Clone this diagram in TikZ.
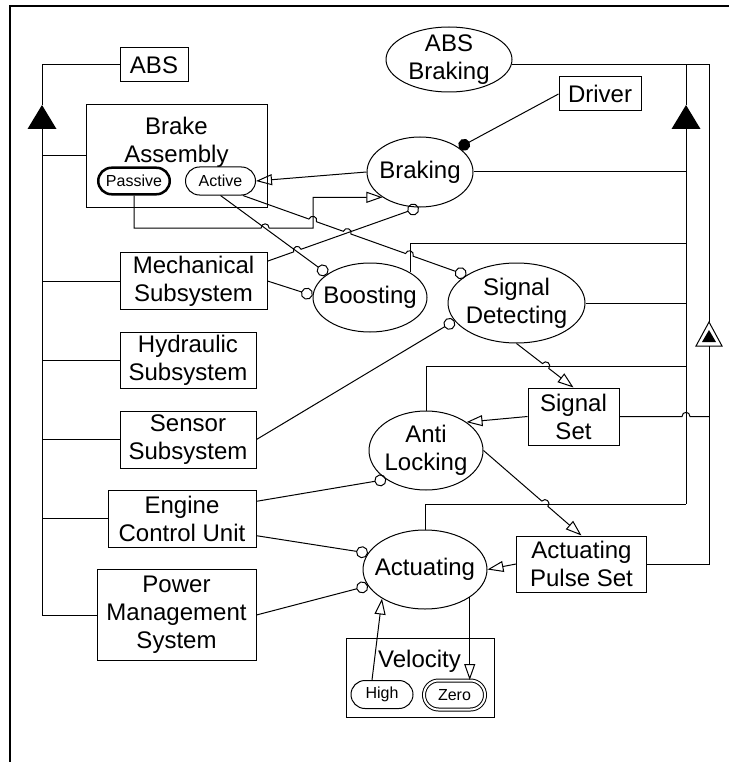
\documentclass[tikz,border=0pt]{standalone}
\usepackage{fontspec}
\setmainfont{Liberation Sans}
\usetikzlibrary{arrows.meta,shapes.geometric,shapes.misc,calc}
\newcommand\objfont{\fontsize{24}{28}\selectfont}
\newcommand\statefont{\fontsize{16}{19}\selectfont}
\newcommand\hopover[3]{%
  -- ($(#2)!4pt!(#1)$)
  .. controls ($(#2)!4pt!(#1)!5.5pt!90:(#2)$) and ($(#2)!4pt!(#3)!5.5pt!-90:(#2)$)
  .. ($(#2)!4pt!(#3)$)}
\tikzset{
  lnk/.style={line width=1pt},
  obj/.style={draw, line width=1pt, rectangle, inner sep=0pt, align=center, font=\objfont},
  proc/.style={draw, line width=1pt, ellipse, inner xsep=-12pt, inner ysep=-5pt, align=center, font=\objfont},
  statebox/.style={draw, line width=1pt, rounded rectangle, inner sep=0pt, font=\statefont},
  reslink/.style={lnk, -{Triangle[open,length=16pt,width=11pt]}},
  instlink/.style={lnk, -{Circle[open,length=12pt]}},
  agentlink/.style={lnk, -{Circle[length=12pt]}}
}
\begin{document}
\begin{tikzpicture}[x=1pt,y=-1pt]
  \useasboundingbox (0,0) rectangle (729,762);
  \draw[line width=2.5pt] (10,762) -- (10,6) -- (729,6);

  \node[obj, minimum width=68pt, minimum height=34pt] (abs) at (154,65) {ABS};
  \node[obj, minimum width=181pt, minimum height=102pt] (brake) at (176.5,156) {};
  \node[anchor=north, align=center, font=\objfont, inner sep=0pt] (brake-lbl) at (176.5,117) {Brake\\Assembly};
  \node[statebox, line width=2.5pt, minimum width=71.5pt, minimum height=26.5pt] (passive) at (134,181) {Passive};
  \node[statebox, minimum width=70pt, minimum height=28pt] (active) at (220.5,181) {Active};
  \node[obj, minimum width=147pt, minimum height=57pt] (mech) at (193.5,281) {Mechanical\\Subsystem};
  \node[obj, minimum width=136pt, minimum height=56pt] (hyd) at (188,360) {Hydraulic\\Subsystem};
  \node[obj, minimum width=136pt, minimum height=57pt] (sens) at (188,439.5) {Sensor\\Subsystem};
  \node[obj, minimum width=148pt, minimum height=57pt] (ecu) at (182,518.5) {Engine\\Control Unit};
  \node[obj, minimum width=159pt, minimum height=91pt] (pms) at (176.5,615) {Power\\Management\\System};
  \node[obj, minimum width=82pt, minimum height=34pt] (driver) at (600,94) {Driver};
  \node[obj, minimum width=91pt, minimum height=57pt] (sigset) at (573.5,416.5) {Signal\\Set};
  \node[obj, minimum width=130pt, minimum height=56pt] (aps) at (581.5,564) {Actuating\\Pulse Set};
  \node[obj, minimum width=148pt, minimum height=79pt] (vel) at (420.5,677.5) {};
  \node[anchor=base, font=\objfont, inner sep=0pt] (vel-lbl) at (419.5,667) {Velocity};
  \node[statebox, minimum width=62pt, minimum height=28pt] (high) at (382,694.5) {High};
  \node[statebox, double, double distance=2pt, minimum width=61pt, minimum height=29pt] (zero) at (454.5,695) {Zero};

  \node[proc, minimum width=126pt, minimum height=65pt] (absb) at (449,59.5) {ABS\\Braking};
  \node[proc, minimum width=106pt, minimum height=70pt] (brk) at (420,172) {Braking};
  \node[proc, minimum width=114pt, minimum height=69pt] (boost) at (370,297.5) {Boosting};
  \node[proc, minimum width=137pt, minimum height=80pt] (sd) at (516.5,303) {Signal\\Detecting};
  \node[proc, minimum width=114pt, minimum height=79pt] (al) at (426,450.5) {Anti\\Locking};
  \node[proc, minimum width=124pt, minimum height=79pt] (act) at (425,569.5) {Actuating};

  \coordinate (aggl) at (42,105);
  \coordinate (aggl-b) at (42,129);
  \coordinate (aggr) at (686,105);
  \coordinate (aggr-b) at (686,129);
  \coordinate (exh) at (709,322);
  \coordinate (exh-b) at (709,346);
  \fill (aggl) -- ++(-14.5,24) -- ++(29,0) -- cycle;
  \fill (aggr) -- ++(-14.5,24) -- ++(29,0) -- cycle;
  \draw[lnk, fill=white] (exh) -- ++(-13,24) -- ++(26,0) -- cycle;
  \fill (709,330) -- ++(-7,12) -- ++(14,0) -- cycle;

  \draw[lnk] (abs.west) -| (aggl);
  \draw[lnk] (aggl-b) |- (pms.west);
  \foreach \n in {brake,mech,hyd,sens,ecu}
    \draw[lnk] (\n.west) -- (\n.west -| aggl-b);

  \coordinate (absb-r) at (absb.-5);
  \coordinate (bus-bst) at (686,243);
  \coordinate (bus-al) at (686,366);
  \coordinate (bus-act) at (686,504);
  \draw[lnk] (absb-r) -| (exh);
  \draw[lnk] (absb-r -| aggr) -- (aggr);
  \draw[lnk] (aggr-b) -- (bus-act);
  \draw[lnk] (brk.east) -- (brk.east -| aggr);
  \draw[lnk] (boost.32) |- (bus-bst);
  \draw[lnk] (sd.east) -- (sd.east -| aggr);
  \draw[lnk] (al.north) |- (bus-al);
  \draw[lnk] (act.north) |- (bus-act);
  \coordinate (ss-r) at (sigset.east -| exh);
  \coordinate (h-ss) at (sigset.east -| aggr);
  \draw[lnk] (sigset.east) \hopover{sigset.east}{h-ss}{ss-r} -- (ss-r);
  \draw[lnk] (aps.east) -| (exh-b);

  \draw[agentlink] (driver.west) -- (brk.32);
  \draw[reslink] (brk.west) -- (active.east);
  \coordinate (pv1) at (passive.south |- 0,228);
  \coordinate (pv2) at (313,228);
  \coordinate (x1) at ($(active.south)!0.417!(boost.151)$);
  \coordinate (h1) at (x1 |- pv1);
  \draw[reslink] (passive.south) -- (pv1) \hopover{pv1}{h1}{pv2} -- (pv2) |- (brk.214);
  \draw[instlink] (active.south) -- (boost.151);
  \coordinate (h2) at ($(mech.15)!0.197!(brk.-92)$);
  \draw[instlink] (mech.15) \hopover{mech.15}{h2}{brk.-92} -- (brk.-92);
  \coordinate (h3) at ($(active.-33)!0.313!(sd.151)$);
  \coordinate (h4) at ($(active.-33)!0.467!(sd.151)$);
  \coordinate (h5) at ($(active.-33)!0.745!(sd.151)$);
  \draw[instlink] (active.-33) \hopover{active.-33}{h3}{sd.151}
    \hopover{active.-33}{h4}{sd.151} \hopover{active.-33}{h5}{sd.151} -- (sd.151);
  \draw[instlink] (mech.east) -- (boost.178);
  \draw[instlink] (sens.east) -- (sd.196);
  \coordinate (h6) at ($(sd.south)!0.511!(sigset.north)$);
  \draw[reslink] (sd.south) \hopover{sd.south}{h6}{sigset.north} -- (sigset.north);
  \draw[reslink] (sigset.west) -- (al.35);
  \draw[instlink] (ecu.13) -- (al.216);
  \coordinate (h8) at ($(al.east)!0.626!(aps.north)$);
  \draw[reslink] (al.east) \hopover{al.east}{h8}{aps.north} -- (aps.north);
  \draw[instlink] (ecu.-13) -- (act.164);
  \draw[instlink] (pms.east) -- (act.196);
  \draw[reslink] (aps.west) -- (act.east);
  \draw[reslink] ([xshift=-10pt]high.north) -- (act.214);
  \draw[reslink] (act.-32) -- (act.-32 |- zero.north);
\end{tikzpicture}
\end{document}
